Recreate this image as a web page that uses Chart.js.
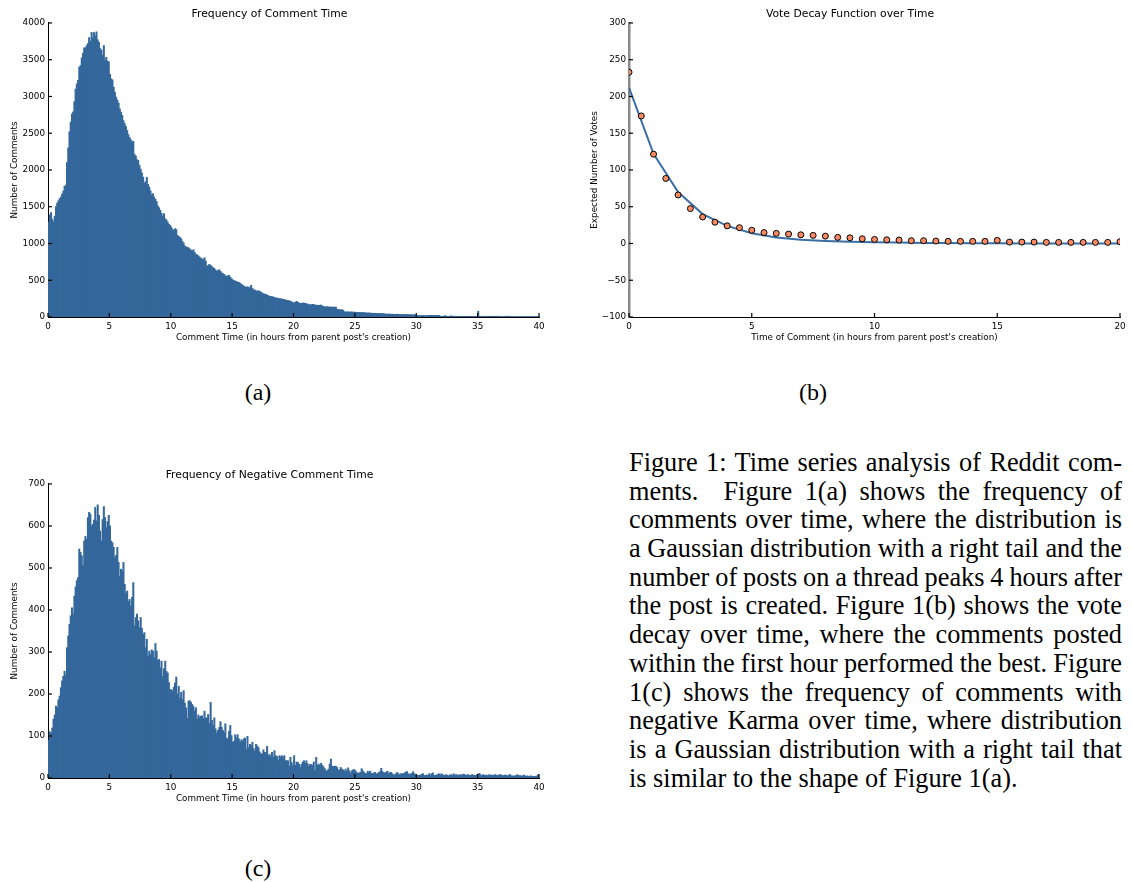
<!DOCTYPE html>
<html>
<head>
<meta charset="utf-8">
<title>Reddit comment time series</title>
<script src="https://cdn.jsdelivr.net/npm/chart.js@4.4.1/dist/chart.umd.min.js"></script>
<style>
  body { margin: 0; background: #fff; width: 1132px; height: 882px; position: relative; overflow: hidden; }
  canvas { position: absolute; }
  #chartA { left: 0; top: 0; }
  #chartB { left: 580px; top: 0; }
  #chartC { left: 0; top: 461px; }
  .sub { position: absolute; width: 80px; margin-left: -40px; text-align: center;
         font-family: 'Liberation Serif', 'Times New Roman', serif; font-size: 24px; line-height: 28px; }
  #caption { position: absolute; left: 629px; top: 449px; width: 493px;
             font-family: 'Liberation Serif', 'Times New Roman', serif; font-size: 26.3px; line-height: 28.7px; }
  #caption div { text-align: justify; text-align-last: justify; word-spacing: -2.5px; height: 28.7px; }
  #caption div.last { text-align-last: left; word-spacing: 0; }
</style>
</head>
<body>
<canvas id="chartA" width="560" height="350"></canvas>
<canvas id="chartB" width="552" height="350"></canvas>
<canvas id="chartC" width="560" height="350"></canvas>

<div class="sub" style="left:258px; top:378px;">(a)</div>
<div class="sub" style="left:813px; top:378px;">(b)</div>
<div class="sub" style="left:258px; top:854px;">(c)</div>

<div id="caption">
  <div>Figure 1: Time series analysis of Reddit com-</div>
  <div>ments.&nbsp; Figure 1(a) shows the frequency of</div>
  <div>comments over time, where the distribution is</div>
  <div>a Gaussian distribution with a right tail and the</div>
  <div>number of posts on a thread peaks 4 hours after</div>
  <div>the post is created. Figure 1(b) shows the vote</div>
  <div>decay over time, where the comments posted</div>
  <div>within the first hour performed the best. Figure</div>
  <div>1(c) shows the frequency of comments with</div>
  <div>negative Karma over time, where distribution</div>
  <div>is a Gaussian distribution with a right tail that</div>
  <div class="last">is similar to the shape of Figure 1(a).</div>
</div>

<script>
// histogram bins are 0.1 hours wide, 400 bins from 0 to 40 hours
var binWidth = 0.1;

// (a) all comments per bin
var commentCounts = [
  1291, 1390, 1420, 1330, 1291, 1370, 1500, 1549, 1580, 1608,
  1631, 1670, 1712, 1776, 1790, 2100, 2300, 2520, 2650, 2760,
  2790, 2930, 3100, 3171, 3220, 3398, 3420, 3524, 3585, 3660,
  3660, 3692, 3720, 3800, 3750, 3870, 3796, 3869, 3823, 3880,
  3770, 3737, 3650, 3630, 3560, 3692, 3490, 3533, 3479, 3470,
  3300, 3239, 3225, 3126, 3058, 2990, 2950, 2910, 2830, 2786,
  2741, 2670, 2630, 2590, 2537, 2480, 2440, 2410, 2380, 2390,
  2211, 2190, 2140, 2129, 2061, 2010, 1960, 1903, 1821, 1840,
  1900, 1803, 1767, 1715, 1660, 1676, 1631, 1600, 1570, 1510,
  1486, 1450, 1410, 1370, 1404, 1336, 1320, 1290, 1260, 1246,
  1220, 1190, 1178, 1200, 1190, 1110, 1096, 1080, 1064, 1030,
  1005, 965, 955, 945, 942, 925, 910, 900, 915, 880,
  850, 845, 830, 815, 800, 790, 779, 806, 760, 689,
  700, 716, 700, 685, 670, 660, 640, 625, 630, 643,
  620, 600, 589, 580, 560, 553, 560, 566, 540, 521,
  505, 495, 489, 480, 475, 470, 460, 444, 435, 420,
  408, 408, 410, 405, 395, 430, 390, 371, 365, 355,
  353, 355, 350, 335, 325, 317, 310, 305, 300, 290,
  281, 278, 275, 272, 265, 258, 258, 252, 249, 248,
  245, 240, 236, 232, 227, 222, 220, 215, 205, 195,
  190, 200, 213, 200, 190, 181, 185, 190, 188, 185,
  181, 175, 168, 163, 168, 172, 170, 162, 159, 160,
  158, 159, 162, 150, 140, 138, 136, 140, 136, 134,
  136, 132, 134, 130, 136, 104, 100, 98, 100, 96,
  92, 70, 68, 68, 70, 66, 68, 68, 64, 66,
  64, 62, 60, 62, 60, 58, 62, 58, 56, 54,
  55, 52, 54, 50, 50, 48, 50, 48, 46, 48,
  46, 45, 46, 44, 40, 40, 38, 40, 38, 36,
  38, 36, 36, 35, 38, 34, 34, 32, 34, 33,
  32, 33, 31, 32, 30, 31, 30, 29, 30, 28,
  20, 18, 20, 18, 19, 20, 18, 17, 18, 19,
  18, 22, 22, 21, 22, 20, 22, 21, 20, 10,
  10, 9, 10, 18, 9, 10, 9, 8, 16, 9,
  10, 9, 8, 9, 8, 9, 9, 8, 9, 8,
  9, 8, 8, 9, 8, 8, 9, 8, 8, 9,
  77, 9, 9, 9, 8, 9, 9, 8, 9, 9,
  8, 9, 9, 8, 9, 8, 9, 9, 8, 5,
  5, 5, 9, 9, 9, 8, 9, 5, 4, 6,
  5, 4, 6, 5, 4, 6, 5, 7, 4, 5,
  4, 6, 5, 4, 5, 6, 4, 5, 4, 6
];

// (c) comments with negative karma per bin
var negativeCounts = [
  90, 110, 107, 119, 140, 150, 171, 167, 186, 195,
  215, 231, 242, 254, 245, 310, 338, 366, 386, 405,
  390, 433, 455, 470, 477, 545, 537, 529, 505, 564,
  575, 568, 620, 632, 628, 600, 604, 614, 644, 612,
  650, 625, 588, 564, 615, 646, 620, 596, 610, 625,
  600, 564, 560, 549, 525, 530, 549, 513, 480, 497,
  493, 513, 461, 440, 445, 421, 425, 409, 430, 465,
  362, 382, 390, 374, 358, 382, 356, 342, 346, 310,
  330, 290, 302, 294, 305, 302, 286, 320, 302, 280,
  282, 262, 278, 242, 260, 278, 254, 250, 227, 210,
  210, 207, 216, 226, 240, 200, 218, 190, 204, 187,
  208, 178, 167, 142, 183, 184, 180, 175, 170, 159,
  167, 140, 150, 145, 147, 148, 141, 159, 143, 143,
  151, 130, 180, 137, 125, 143, 117, 107, 113, 120,
  134, 121, 113, 108, 129, 95, 93, 111, 125, 101,
  85, 87, 103, 96, 103, 93, 85, 91, 88, 93,
  95, 68, 99, 72, 80, 77, 85, 70, 64, 80,
  76, 72, 62, 56, 58, 67, 61, 60, 75, 53,
  56, 51, 61, 49, 65, 53, 51, 41, 53, 50,
  53, 49, 53, 41, 41, 41, 27, 49, 37, 29,
  53, 30, 38, 37, 33, 25, 32, 38, 41, 35,
  41, 34, 28, 32, 32, 30, 38, 17, 49, 30,
  33, 30, 35, 30, 26, 22, 17, 17, 21, 33,
  45, 28, 27, 28, 28, 25, 19, 19, 25, 21,
  19, 16, 21, 16, 24, 17, 11, 17, 19, 20,
  17, 13, 11, 12, 13, 22, 17, 13, 11, 10,
  16, 13, 16, 11, 10, 12, 13, 10, 10, 13,
  15, 23, 15, 13, 11, 14, 16, 10, 13, 13,
  10, 7, 8, 10, 13, 10, 8, 10, 10, 10,
  12, 14, 15, 10, 8, 10, 11, 15, 10, 8,
  7, 6, 6, 7, 9, 10, 6, 6, 7, 6,
  10, 6, 10, 12, 6, 6, 7, 8, 10, 7,
  10, 8, 6, 6, 8, 6, 5, 7, 8, 6,
  10, 6, 8, 7, 6, 8, 6, 8, 9, 8,
  6, 7, 8, 6, 6, 8, 7, 6, 6, 8,
  9, 11, 7, 6, 8, 6, 7, 6, 6, 8,
  6, 7, 6, 7, 8, 6, 6, 7, 8, 7,
  5, 6, 7, 6, 5, 7, 8, 5, 5, 4,
  5, 6, 8, 5, 6, 4, 5, 7, 5, 4,
  5, 4, 4, 5, 3, 4, 4, 3, 5, 8
];

// (b) average votes by time of comment, plus the fitted decay curve
var voteHours = [0, 0.5, 1, 1.5, 2, 2.5, 3, 3.5, 4, 4.5, 5, 5.5, 6, 6.5, 7, 7.5, 8, 8.5, 9, 9.5,
  10, 10.5, 11, 11.5, 12, 12.5, 13, 13.5, 14, 14.5, 15, 15.5, 16, 16.5, 17, 17.5, 18, 18.5, 19, 19.5, 20];
var voteMeans = [233, 173.5, 121.5, 88.5, 66, 47.5, 36, 29, 24, 21.5, 18, 14.8, 13.7, 12.8, 11.8, 11, 10, 8.3, 7.7, 6.4,
  5.5, 5, 4.6, 3.8, 3.8, 3.3, 2.9, 2.9, 2.9, 2.9, 4.2, 1.9, 1.9, 1.9, 1.5, 1.5, 1.5, 1.5, 1.5, 1.5, 2.4];
var fitHours = [0, 1, 2, 3, 4, 5, 6, 7, 8, 9, 10, 11, 12, 13, 14, 15, 16, 17, 18, 19, 20];
var fitValues = [212, 122, 70, 40, 24, 14, 8, 5, 3.5, 2.5, 1.8, 1.2, 0.8, 0.5, 0.3, 0.2, 0.1, 0.1, 0, 0, 0];

var histColor = '#34679b';
var lineColor = '#3b6fa6';
var dotColor = '#fb8a62';

Chart.defaults.font.family = "'DejaVu Sans', sans-serif";
Chart.defaults.color = '#000';

// matplotlib style: tick marks pointing into the plot
var innerTicks = {
  id: 'innerTicks',
  afterDraw(chart) {
    var ctx = chart.ctx;
    var area = chart.chartArea;
    ctx.save();
    ctx.strokeStyle = '#000';
    ctx.lineWidth = 1.2;
    var xs = chart.scales.x, ys = chart.scales.y;
    xs.ticks.forEach(function (t) {
      var px = xs.getPixelForValue(t.value);
      ctx.beginPath(); ctx.moveTo(px, area.bottom); ctx.lineTo(px, area.bottom - 4); ctx.stroke();
    });
    ys.ticks.forEach(function (t) {
      var py = ys.getPixelForValue(t.value);
      ctx.beginPath(); ctx.moveTo(area.left, py); ctx.lineTo(area.left + 4, py); ctx.stroke();
    });
    ctx.restore();
  }
};

// plain numbers, unicode minus like matplotlib
function plainTick(v) { return String(v).replace('-', '\u2212'); }

function axisTitle(text, pad) {
  return { display: true, text: text, font: { size: 8.8 }, color: '#000', padding: pad };
}

function baseOptions(title, xText, yText, yAxisWidth, rightPad) {
  return {
    responsive: false,
    animation: false,
    events: [],
    layout: { padding: { left: 0, right: rightPad, top: 0, bottom: 0 } },
    plugins: {
      legend: { display: false },
      tooltip: { enabled: false },
      title: {
        display: true, text: title, color: '#000',
        font: { size: 10.8, weight: 'normal' },
        padding: { top: 8, bottom: 2 }
      }
    },
    scales: {
      x: {
        type: 'linear', offset: false,
        ticks: { padding: 4, font: { size: 8.8 }, color: '#000', maxRotation: 0, callback: plainTick },
        grid: { display: false, drawTicks: false },
        border: { color: '#000', width: 1 },
        title: axisTitle(xText, { top: 0, bottom: 7 }),
        afterFit: function (s) { s.height = 33; }
      },
      y: {
        ticks: { padding: 3, font: { size: 8.8 }, color: '#000', callback: plainTick },
        grid: { display: false, drawTicks: false },
        border: { color: '#000', width: 1 },
        title: axisTitle(yText, { top: 9, bottom: 0 }),
        afterFit: function (s) { s.width = yAxisWidth; }
      }
    }
  };
}

function histogram(id, title, counts, yMax, yStep) {
  var points = counts.map(function (c, i) { return { x: (i + 0.5) * binWidth, y: c }; });
  var opts = baseOptions(title, "Comment Time (in hours from parent post's creation)", 'Number of Comments', 48, 21);
  opts.scales.x.min = 0;
  opts.scales.x.max = 40;
  opts.scales.x.ticks.stepSize = 5;
  opts.scales.y.min = 0;
  opts.scales.y.max = yMax;
  opts.scales.y.ticks.stepSize = yStep;
  return new Chart(document.getElementById(id), {
    type: 'bar',
    data: {
      datasets: [{
        data: points,
        backgroundColor: histColor,
        borderWidth: 0,
        barPercentage: 1,
        categoryPercentage: 1,
        inflateAmount: 0.4
      }]
    },
    options: opts,
    plugins: [innerTicks]
  });
}

histogram('chartA', 'Frequency of Comment Time', commentCounts, 4000, 500);
histogram('chartC', 'Frequency of Negative Comment Time', negativeCounts, 700, 100);

var decayOpts = baseOptions('Vote Decay Function over Time',
  "Time of Comment (in hours from parent post's creation)", 'Expected Number of Votes', 49, 12);
decayOpts.scales.x.min = 0;
decayOpts.scales.x.max = 20;
decayOpts.scales.x.ticks.stepSize = 5;
decayOpts.scales.y.min = -100;
decayOpts.scales.y.max = 300;
decayOpts.scales.y.ticks.stepSize = 50;
decayOpts.scales.y.border = { color: '#8a8a8a', width: 2.5 };

new Chart(document.getElementById('chartB'), {
  type: 'scatter',
  data: {
    datasets: [
      {
        data: voteHours.map(function (h, i) { return { x: h, y: voteMeans[i] }; }),
        pointRadius: 3,
        pointBackgroundColor: dotColor,
        pointBorderColor: '#000',
        pointBorderWidth: 1,
        showLine: false
      },
      {
        data: fitHours.map(function (h, i) { return { x: h, y: fitValues[i] }; }),
        showLine: true,
        pointRadius: 0,
        borderColor: lineColor,
        borderWidth: 2,
        tension: 0
      }
    ]
  },
  options: decayOpts,
  plugins: [innerTicks]
});
</script>
</body>
</html>
